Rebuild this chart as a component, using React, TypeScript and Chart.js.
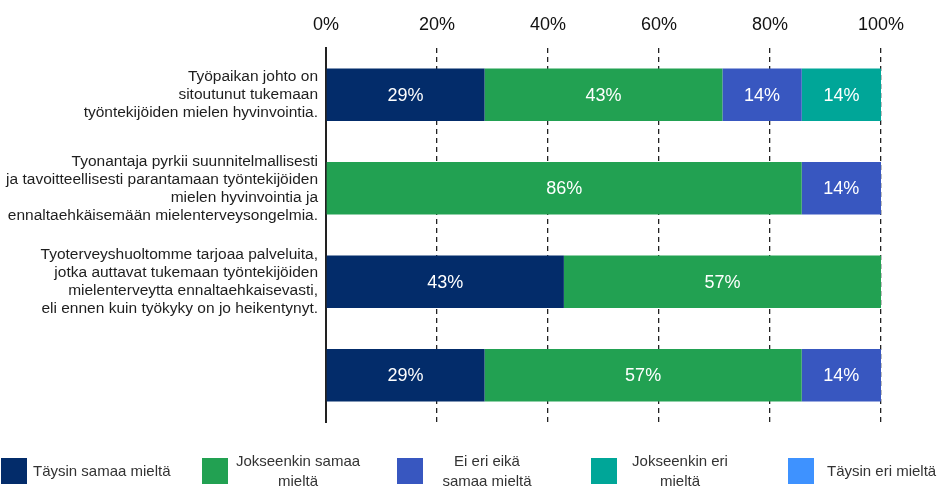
import React, { useEffect, useRef } from "react";
import { Chart, registerables } from "chart.js";

Chart.register(...registerables);

const categories: string[][] = [
  ["Työpaikan johto on", "sitoutunut tukemaan", "työntekijöiden mielen hyvinvointia."],
  ["Tyonantaja pyrkii suunnitelmallisesti", "ja tavoitteellisesti parantamaan työntekijöiden", "mielen hyvinvointia ja", "ennaltaehkäisemään mielenterveysongelmia."],
  ["Tyoterveyshuoltomme tarjoaa palveluita,", "jotka auttavat tukemaan työntekijöiden", "mielenterveytta ennaltaehkaisevasti,", "eli ennen kuin työkyky on jo heikentynyt."],
  [""],
];

const seriesNames = ["Täysin samaa mieltä", "Jokseenkin samaa mieltä", "Ei eri eikä samaa mieltä", "Jokseenkin eri mieltä", "Täysin eri mieltä"];
const legendLines: string[][] = [
  ["Täysin samaa mieltä"],
  ["Jokseenkin samaa", "mieltä"],
  ["Ei eri eikä", "samaa mieltä"],
  ["Jokseenkin eri", "mieltä"],
  ["Täysin eri mieltä"],
];
const colors = ["#032c6a", "#22a152", "#3857c0", "#00a698", "#3e92ff"];

const taysinSamaa = [28.57, 0, 42.86, 28.57];
const jokseenkinSamaa = [42.86, 85.71, 57.14, 57.14];
const eiEriEika = [14.29, 14.29, 0, 14.29];
const jokseenkinEri = [14.29, 0, 0, 0];
const taysinEri = [0, 0, 0, 0];
const seriesValues = [taysinSamaa, jokseenkinSamaa, eiEriEika, jokseenkinEri, taysinEri];

const xTicks = [0, 20, 40, 60, 80, 100];

const legendLayout = [
  { box: 1, text: 33, align: "left" },
  { box: 202, text: 298, align: "center" },
  { box: 397, text: 487, align: "center" },
  { box: 591, text: 680, align: "center" },
  { box: 788, text: 827, align: "left" },
];

const FONT = "'Liberation Sans', Arial, sans-serif";

const barLabels = {
  id: "barLabels",
  afterDatasetsDraw(chart: any) {
    const ctx = chart.ctx;
    ctx.save();
    ctx.fillStyle = "#ffffff";
    ctx.font = `18px ${FONT}`;
    ctx.textAlign = "center";
    ctx.textBaseline = "middle";
    chart.data.datasets.forEach((ds: any, i: number) => {
      const meta = chart.getDatasetMeta(i);
      meta.data.forEach((bar: any, j: number) => {
        const v = ds.data[j];
        if (!v) return;
        const { x, y, base } = bar.getProps(["x", "y", "base"], true);
        ctx.fillText(Math.round(v) + "%", (x + base) / 2, y + 1);
      });
    });
    ctx.restore();
  },
};

const customLegend = {
  id: "customLegend",
  afterDraw(chart: any) {
    const ctx = chart.ctx;
    ctx.save();
    ctx.font = `15px ${FONT}`;
    ctx.textBaseline = "middle";
    legendLayout.forEach((l, i) => {
      ctx.fillStyle = colors[i];
      ctx.fillRect(l.box, 458, 26, 26);
      ctx.fillStyle = "#333333";
      ctx.textAlign = l.align;
      const lines = legendLines[i];
      if (lines.length === 1) {
        ctx.fillText(lines[0], l.text, 472);
      } else {
        ctx.fillText(lines[0], l.text, 462);
        ctx.fillText(lines[1], l.text, 482);
      }
    });
    ctx.restore();
  },
};

export default function App() {
  const ref = useRef<HTMLCanvasElement>(null);
  useEffect(() => {
    document.body.style.margin = "0";
    const chart = new Chart(ref.current!, {
      type: "bar",
      data: {
        labels: categories,
        datasets: seriesValues.map((d, i) => ({
          label: seriesNames[i],
          data: d,
          backgroundColor: colors[i],
          borderWidth: 0,
          barPercentage: 0.56,
          categoryPercentage: 1,
        })),
      },
      options: {
        indexAxis: "y",
        animation: false,
        responsive: false,
        maintainAspectRatio: false,
        layout: { padding: { left: 0, right: 58, top: 0, bottom: 66 } },
        plugins: { legend: { display: false }, tooltip: { enabled: false } },
        scales: {
          x: {
            position: "top",
            stacked: true,
            min: 0,
            max: 100,
            afterBuildTicks: (axis: any) => {
              axis.ticks = xTicks.map((v) => ({ value: v }));
            },
            ticks: {
              callback: (v: any) => v + "%",
              color: "#111111",
              font: { family: FONT, size: 18 },
              padding: 12,
            },
            grid: {
              drawTicks: false,
              color: "#222222",
              lineWidth: 1.3,
              tickLength: 0,
            },
            border: { display: false, dash: [5, 4] },
            afterFit: (axis: any) => {
              axis.height = 48;
            },
          },
          y: {
            stacked: true,
            ticks: {
              color: "#1e1e1e",
              font: { family: FONT, size: 15.5, lineHeight: 1.16 },
              padding: 8,
            },
            grid: { display: false, drawTicks: false },
            border: { display: true, color: "#222222", width: 2 },
            afterFit: (axis: any) => {
              axis.width = 326;
            },
          },
        },
      } as any,
      plugins: [barLabels, customLegend],
    });
    return () => chart.destroy();
  }, []);
  return (
    <div style={{ position: "absolute", left: 0, top: 0, width: 939, height: 488 }}>
      <canvas ref={ref} width={939} height={488} style={{ width: 939, height: 488 }} />
    </div>
  );
}
